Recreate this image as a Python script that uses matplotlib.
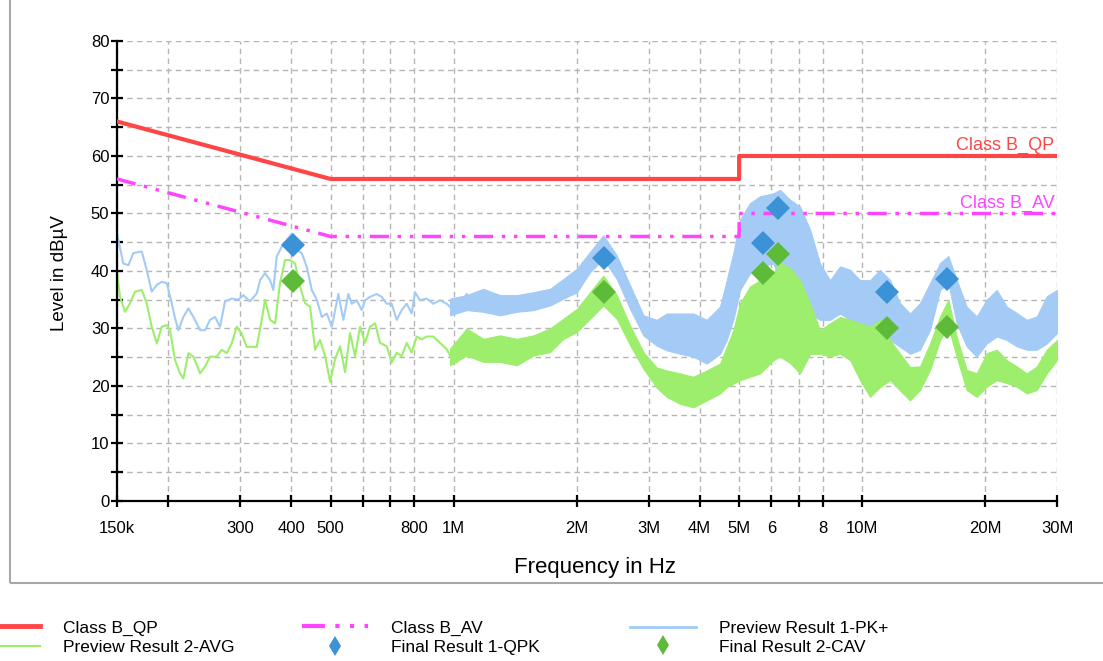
import numpy as np
import matplotlib.pyplot as plt
from matplotlib.lines import Line2D
from matplotlib.patches import Rectangle
from matplotlib.ticker import NullLocator

plt.rcParams['font.family'] = ['Liberation Sans', 'DejaVu Sans']

# Limit lines (frequencies in MHz, level in dBuV)
lim_f = [0.15, 0.5, 5.0, 5.0, 30.0]
qp_lim = [66, 56, 56, 60, 60]
av_lim = [56, 46, 46, 50, 50]

# Preview PK+ trace, low frequency part (single line)
pk_line_f = [0.150, 0.1554, 0.160, 0.1644, 0.1724, 0.1773, 0.1824, 0.1877, 0.1930, 0.1985,
             0.2042, 0.2080, 0.2120, 0.2180, 0.2243, 0.2307, 0.2396, 0.2464, 0.2534, 0.2607,
             0.2681, 0.2757, 0.2863, 0.2972, 0.3057, 0.3174, 0.3297, 0.3359, 0.3455, 0.3554,
             0.3620, 0.3690, 0.3795, 0.3904, 0.4016, 0.4131, 0.4250, 0.4371, 0.4496, 0.4624,
             0.4757, 0.4893, 0.5033, 0.5223, 0.5372, 0.5525, 0.5630, 0.5793, 0.5958, 0.6071,
             0.6243, 0.6483, 0.6669, 0.6860, 0.7055, 0.7257, 0.7464, 0.7678, 0.7897, 0.8046,
             0.8276, 0.8593, 0.8919, 0.9261, 0.9618, 0.9988, 1.037, 1.077, 1.118, 1.161]
pk_line_v = [46.5, 41.3, 41.0, 43.1, 43.4, 40.2, 36.4, 37.6, 38.1, 37.9,
             34.4, 31.8, 29.7, 32.0, 33.5, 32.0, 29.7, 29.7, 31.5, 32.0,
             30.3, 34.7, 35.2, 35.0, 35.8, 34.7, 36.1, 38.4, 39.6, 38.4,
             36.7, 42.5, 44.2, 45.4, 46.5, 43.7, 43.1, 40.7, 36.7, 35.0,
             32.0, 32.6, 30.3, 36.0, 31.5, 36.0, 34.3, 34.9, 33.2, 34.9,
             35.5, 36.0, 35.5, 34.3, 34.3, 31.5, 33.2, 34.3, 32.6, 36.3,
             34.9, 35.2, 34.3, 34.9, 34.3, 33.2, 34.3, 36.0, 34.9, 35.5]

# Preview AVG trace, low frequency part (single line)
avg_line_f = [0.150, 0.1526, 0.1569, 0.1614, 0.1660, 0.1724, 0.1773, 0.1824, 0.1877, 0.1930,
              0.1985, 0.2022, 0.2080, 0.2139, 0.2180, 0.2243, 0.2307, 0.2396, 0.2464, 0.2534,
              0.2631, 0.2706, 0.2784, 0.2863, 0.2945, 0.3029, 0.3116, 0.3205, 0.3297, 0.3391,
              0.3455, 0.3554, 0.3656, 0.3759, 0.3867, 0.3977, 0.4092, 0.4208, 0.4329, 0.4453,
              0.4581, 0.4712, 0.4847, 0.4985, 0.5127, 0.5274, 0.5424, 0.5579, 0.5738, 0.5902,
              0.6071, 0.6243, 0.6423, 0.6606, 0.6860, 0.7055, 0.7257, 0.7464, 0.7678, 0.7897,
              0.8123, 0.8355, 0.8593, 0.8919, 0.9261, 0.9618, 0.990, 1.018, 1.047, 1.077,
              1.118, 1.161]
avg_line_v = [39.6, 35.5, 32.9, 34.4, 36.4, 36.7, 34.4, 30.3, 27.4, 30.3,
              30.6, 29.7, 24.5, 22.2, 21.3, 25.7, 25.1, 22.2, 23.4, 25.1,
              25.1, 26.3, 25.7, 27.4, 30.3, 29.1, 26.8, 26.8, 26.8, 31.5,
              35.0, 31.5, 30.9, 37.9, 41.9, 41.9, 41.3, 37.3, 34.4, 33.8,
              26.3, 28.0, 25.2, 20.7, 24.7, 26.9, 22.4, 29.2, 25.2, 30.3,
              27.5, 30.3, 30.9, 27.5, 26.9, 24.1, 25.8, 25.2, 27.5, 25.8,
              28.6, 28.1, 28.6, 28.6, 27.5, 26.4, 24.7, 24.1, 26.4, 29.8,
              28.6, 28.1]

# Above 1 MHz the sweeps become dense bands: lower / upper envelopes
band_f = [0.980, 1.077, 1.182, 1.299, 1.428, 1.568, 1.722, 1.857, 2.003, 2.158,
          2.325, 2.509, 2.704, 2.915, 3.143, 3.325, 3.584, 3.863, 4.166, 4.490,
          4.662, 4.839, 5.025, 5.316, 5.628, 6.065, 6.297, 6.663, 7.049, 7.458,
          7.889, 8.347, 8.832, 9.344, 9.886, 10.46, 11.06, 11.71, 12.39, 13.10,
          13.86, 14.67, 15.52, 16.26, 17.04, 18.03, 19.08, 20.19, 21.36, 22.60,
          23.91, 25.30, 26.77, 28.32, 30.0]
pk_hi = [35.2, 35.8, 36.9, 35.8, 35.8, 36.3, 36.9, 38.6, 40.4, 43.3,
         46.2, 42.7, 37.5, 32.3, 31.5, 32.6, 32.6, 32.6, 31.5, 33.8,
         38.4, 43.1, 48.9, 51.8, 53.0, 53.5, 54.1, 52.4, 51.2, 47.2,
         41.3, 38.4, 40.8, 40.2, 38.4, 38.4, 40.2, 38.4, 34.4, 32.6,
         34.4, 37.9, 41.4, 42.6, 38.5, 33.8, 32.1, 35.0, 36.7, 33.8,
         32.7, 31.5, 32.1, 35.6, 36.7]
pk_lo = [32.3, 33.2, 32.9, 32.3, 32.9, 33.2, 34.0, 35.2, 36.3, 39.8,
         42.1, 38.6, 33.4, 28.8, 27.0, 26.2, 25.6, 25.1, 23.9, 25.6,
         28.0, 31.5, 36.7, 39.6, 40.8, 41.3, 38.4, 37.8, 35.5, 32.6,
         31.5, 31.5, 32.6, 31.5, 28.5, 26.8, 26.8, 28.0, 26.8, 25.6,
         26.3, 29.8, 36.7, 37.9, 30.9, 26.9, 25.1, 27.4, 28.6, 28.0,
         26.9, 26.3, 26.3, 27.4, 29.2]
avg_hi = [26.5, 30.0, 28.2, 28.8, 28.2, 28.8, 30.0, 31.7, 33.4, 36.3,
          39.2, 35.8, 30.5, 25.9, 23.2, 22.7, 22.2, 21.6, 22.7, 23.9,
          26.8, 29.7, 34.4, 37.3, 38.4, 39.6, 41.5, 40.5, 38.4, 34.4,
          29.7, 30.9, 32.0, 31.5, 30.9, 30.3, 31.5, 28.0, 25.6, 23.3,
          23.4, 27.4, 32.1, 35.0, 28.6, 22.8, 22.2, 25.7, 26.3, 24.5,
          23.4, 22.2, 23.4, 26.3, 28.0]
avg_lo = [23.6, 25.3, 24.2, 24.2, 23.6, 25.3, 25.9, 28.2, 29.4, 31.7,
          34.0, 31.7, 27.1, 23.0, 19.7, 18.1, 16.9, 16.3, 17.5, 18.7,
          19.8, 20.4, 21.0, 21.6, 22.2, 24.5, 25.1, 24.0, 22.2, 25.6,
          25.6, 25.1, 25.6, 24.5, 21.0, 18.1, 19.8, 21.0, 19.2, 17.5,
          19.3, 22.8, 28.0, 30.3, 25.1, 19.3, 18.1, 19.9, 21.0, 20.5,
          19.9, 18.7, 19.3, 22.2, 24.5]

# Final measurements
final_f = [0.405, 2.33, 5.72, 6.23, 11.5, 16.1]
qpk_v = [44.5, 42.3, 44.9, 51.0, 36.3, 38.6]
cav_v = [38.3, 36.3, 39.6, 43.0, 30.1, 30.3]

# Axis ticks
xtick_f = [0.15, 0.2, 0.3, 0.4, 0.5, 0.6, 0.7, 0.8, 1, 2, 3, 4, 5, 6, 7, 8, 10, 20, 30]
xtick_lbl = ['150k', '', '300', '400', '500', '', '', '800', '1M', '2M', '3M', '4M',
             '5M', '6', '', '8', '10M', '20M', '30M']

qp_col = '#ff4646'
av_col = '#ff45ff'
pk_col = '#a3cbf5'
avg_col = '#9cee6c'
qpk_col = '#3b92d6'
cav_col = '#5ebb3a'
av_dash = (0, (5.5, 2.5, 1, 2.5, 1, 2.5))

MHz = 1e6

fig = plt.figure(figsize=(11.03, 6.61), dpi=100)
ax = fig.add_axes([0.1061, 0.2421, 0.8522, 0.6959])

# traces
ax.fill_between(np.array(band_f) * MHz, pk_lo, pk_hi, color=pk_col, lw=0.8, zorder=2)
ax.plot(np.array(pk_line_f) * MHz, pk_line_v, color=pk_col, lw=1.5, zorder=2)
ax.fill_between(np.array(band_f) * MHz, avg_lo, avg_hi, color=avg_col, lw=0.8, zorder=2.1)
ax.plot(np.array(avg_line_f) * MHz, avg_line_v, color=avg_col, lw=1.5, zorder=2.1)

# limits
ax.plot(np.array(lim_f) * MHz, qp_lim, color=qp_col, lw=3, zorder=3)
ax.plot(np.array(lim_f) * MHz, av_lim, color=av_col, lw=2.5, linestyle=av_dash, zorder=3)
ax.text(29.6 * MHz, 61.9, 'Class B_QP', color=qp_col, fontsize=13, ha='right', va='center')
ax.text(29.6 * MHz, 51.8, 'Class B_AV', color=av_col, fontsize=13, ha='right', va='center')

# final results
ax.plot(np.array(final_f) * MHz, qpk_v, 'D', color=qpk_col, ms=12, mew=0, zorder=4)
ax.plot(np.array(final_f) * MHz, cav_v, 'D', color=cav_col, ms=12, mew=0, zorder=4)

ax.set_xscale('log')
ax.set_xlim(0.15 * MHz, 30 * MHz)
ax.set_ylim(0, 80)
ax.set_xticks(np.array(xtick_f) * MHz)
ax.set_xticklabels(xtick_lbl)
ax.xaxis.set_minor_locator(NullLocator())
ax.set_yticks(range(0, 81, 10))
ax.set_yticks(range(5, 80, 10), minor=True)

ax.xaxis.grid(True, which='major', color='#b5b5b5', linestyle=(0, (4, 3)), lw=1)
ax.yaxis.grid(True, which='both', color='#b5b5b5', linestyle=(0, (4, 3)), lw=1)
ax.set_axisbelow(True)

for s in ['top', 'right']:
    ax.spines[s].set_visible(False)
for s in ['left', 'bottom']:
    ax.spines[s].set_linewidth(1.6)
ax.tick_params(axis='both', which='both', direction='inout', length=9, width=1.6, labelsize=12)
ax.tick_params(axis='x', pad=10)
ax.tick_params(axis='y', pad=1)

fig.text(595 / 1103, 1 - 568 / 661, 'Frequency in Hz', fontsize=16, ha='center', va='center')
fig.text(60 / 1103, 1 - 273 / 661, 'Level in dBµV', fontsize=13.5, rotation=90, ha='center', va='center')

# outer panel frame
fig.add_artist(Rectangle((10 / 1103, 1 - 583 / 661), 1.2, 1.0, transform=fig.transFigure,
                         fill=False, ec='#a8a8a8', lw=1.5))

# legend in three columns
h_qp = Line2D([], [], color=qp_col, lw=3.5)
h_av = Line2D([], [], color=av_col, lw=3, linestyle=av_dash)
h_pk = Line2D([], [], color=pk_col, lw=2)
h_avg = Line2D([], [], color=avg_col, lw=1.5)
h_qpk = Line2D([], [], color=qpk_col, marker='d', ms=10.5, lw=0, mew=0)
h_cav = Line2D([], [], color=cav_col, marker='d', ms=10.5, lw=0, mew=0)

cols = [([h_qp, h_avg], ['Class B_QP', 'Preview Result 2-AVG'], -26),
        ([h_av, h_qpk], ['Class B_AV', 'Final Result 1-QPK'], 302),
        ([h_pk, h_cav], ['Preview Result 1-PK+', 'Final Result 2-CAV'], 630)]
for hs, ls, xpx in cols:
    fig.legend(hs, ls, loc='center left', bbox_to_anchor=(xpx / 1103, 1 - 637.5 / 661),
               frameon=False, borderpad=0, borderaxespad=0, handlelength=3.8,
               handletextpad=1.3, labelspacing=0.22, fontsize=12.5, numpoints=1)

fig.savefig('out.png', dpi=100)
